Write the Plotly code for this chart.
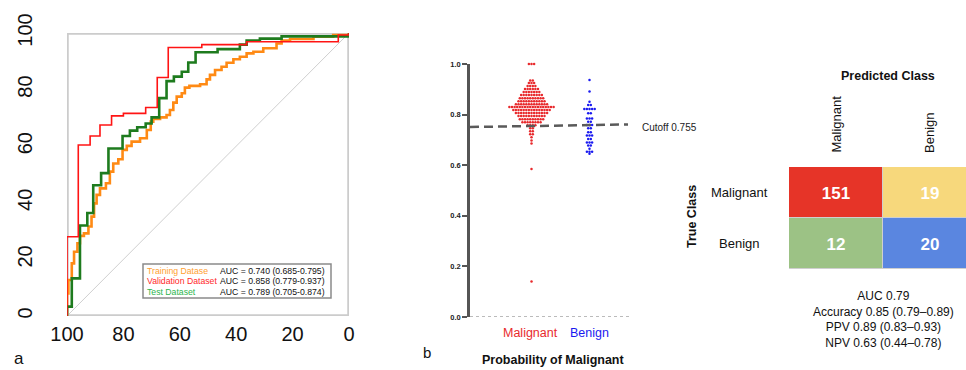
import plotly.graph_objects as go

W, H = 966, 370
def fx(p): return p / W
def fy(p): return 1 - p / H

FONT = "Arial, Liberation Sans, Helvetica, sans-serif"

# ---------------- Panel a: ROC curves (specificity %, sensitivity %) ----------------
train_spec = [100, 99.5, 98.3, 97.5, 96.3, 95.4, 94.0, 92.4, 91.3, 90.4, 89.5, 88.3, 86.2, 84.8,
              83.6, 81.8, 80.3, 78.8, 77.1, 74.1, 71.7, 70.3, 69.4, 67.0, 64.7, 63.5, 62.3, 61.1,
              59.3, 58.2, 56.6, 52.8, 50.5, 49.3, 47.5, 45.2, 43.4, 41.0, 38.7, 36.3, 33.9, 30.4,
              25.7, 23.9, 20.9, 12.6, 5.6, 0, 0]
train_sens = [0, 8.0, 12.7, 18.6, 22.7, 25.7, 28.3, 29.2, 31.6, 35.1, 39.8, 42.8, 45.1, 46.9,
              51.0, 53.9, 55.4, 58.7, 60.1, 61.6, 62.8, 65.7, 68.7, 69.6, 70.2, 71.0, 72.8, 75.4,
              77.5, 78.7, 80.7, 81.3, 81.9, 83.6, 85.2, 86.9, 88.1, 89.5, 90.7, 91.6, 92.8, 93.4,
              94.6, 96.3, 97.3, 97.9, 98.7, 99.3, 100]
val_spec = [100, 96.0, 91.8, 88.3, 84.2, 80.0, 72.1, 68.0, 64.1, 52.2, 36.3, 3.8, 0, 0]
val_sens = [0, 28.0, 60.4, 63.6, 67.5, 70.7, 71.6, 73.7, 84.3, 94.9, 95.9, 96.9, 99.3, 100]
test_spec = [100, 98.3, 95.4, 92.8, 90.7, 87.9, 85.3, 80.3, 77.7, 75.1, 72.1, 70.0, 67.3, 64.7,
             62.1, 59.3, 57.0, 54.4, 46.6, 38.7, 36.3, 31.6, 23.9, 0, 0]
test_sens = [0, 3.3, 13.3, 32.0, 36.4, 46.2, 50.5, 59.2, 63.6, 65.5, 66.7, 68.0, 70.2, 77.0,
             83.0, 84.6, 86.3, 89.6, 93.2, 94.3, 95.9, 97.3, 98.0, 98.8, 100]
roc_ticks = [100, 80, 60, 40, 20, 0]
roc_names = ["Training Datase", "Validation Dataset", "Test Dataset"]
roc_auc = ["AUC = 0.740 (0.685-0.795)", "AUC = 0.858 (0.779-0.937)", "AUC = 0.789 (0.705-0.874)"]

# ---------------- Panel b: dot plot of predicted probability ----------------
mal_vals = [1.000, 0.935, 0.925, 0.913, 0.901, 0.889, 0.877, 0.865, 0.853, 0.841, 0.830, 0.818,
            0.806, 0.794, 0.782, 0.770, 0.758, 0.746, 0.734, 0.722, 0.710, 0.698, 0.686, 0.585, 0.140]
mal_counts = [3, 2, 3, 4, 6, 7, 9, 10, 11, 13, 18, 15,
              13, 11, 10, 8, 4, 2, 2, 2, 1, 1, 1, 1, 1]
ben_vals = [0.937, 0.891, 0.851, 0.838, 0.822, 0.805, 0.785, 0.772, 0.759, 0.746, 0.730, 0.717,
            0.704, 0.690, 0.678, 0.665, 0.653, 0.645]
ben_counts = [1, 1, 1, 2, 5, 2, 3, 2, 3, 2, 2, 3, 2, 3, 2, 1, 3, 1]
cutoff = 0.755
cutoff_line_y = [0.751, 0.761]
prob_ticks = [0.0, 0.2, 0.4, 0.6, 0.8, 1.0]
groups = ["Malignant", "Benign"]

# ---------------- Panel c: confusion matrix ----------------
cm_classes = ["Malignant", "Benign"]
cm_counts = [[151, 19], [12, 20]]
cm_colors = [["#E63428", "#F7D87C"], ["#9CC285", "#5A86E0"]]
cm_stats = ["AUC 0.79", "Accuracy 0.85 (0.79–0.89)", "PPV 0.89 (0.83–0.93)", "NPV 0.63 (0.44–0.78)"]

RED_L, GRN_L, ORG_L = "#FF1414", "#1E7B1E", "#FF8A14"
RED_T, GRN_T, ORG_T = "#FF2A2A", "#2DB54E", "#FFA030"

fig = go.Figure()

# ROC traces
fig.add_trace(go.Scatter(x=[100, 0], y=[0, 100], mode="lines",
                         line=dict(color="#CFCFCF", width=1), xaxis="x", yaxis="y", hoverinfo="skip"))
fig.add_trace(go.Scatter(x=train_spec, y=train_sens, mode="lines", line_shape="vh",
                         line=dict(color=ORG_L, width=2.6), name=roc_names[0], xaxis="x", yaxis="y"))
fig.add_trace(go.Scatter(x=test_spec, y=test_sens, mode="lines", line_shape="vh",
                         line=dict(color=GRN_L, width=2.6), name=roc_names[2], xaxis="x", yaxis="y"))
fig.add_trace(go.Scatter(x=val_spec, y=val_sens, mode="lines", line_shape="vh",
                         line=dict(color=RED_L, width=1.6), name=roc_names[1], xaxis="x", yaxis="y"))

# Dot plot (rows laid out side by side around the group centre)
def swarm(vals, counts, center, spacing=2.6):
    xs, ys = [], []
    for v, c in zip(vals, counts):
        for k in range(c):
            xs.append(center + (k - (c - 1) / 2) * spacing)
            ys.append(v)
    return xs, ys

MAL_C, BEN_C = 61.5, 119.5
mx, my = swarm(mal_vals, mal_counts, MAL_C)
bx, by = swarm(ben_vals, ben_counts, BEN_C)
fig.add_trace(go.Scatter(x=mx, y=my, mode="markers", marker=dict(color="#E8292C", size=2.5),
                         xaxis="x2", yaxis="y2", cliponaxis=False))
fig.add_trace(go.Scatter(x=bx, y=by, mode="markers", marker=dict(color="#1A1AF0", size=2.5),
                         xaxis="x2", yaxis="y2", cliponaxis=False))
fig.add_trace(go.Scatter(x=[0, 158], y=cutoff_line_y, mode="lines",
                         line=dict(color="#5A5A5A", width=2.5, dash="9px,5px"),
                         xaxis="x2", yaxis="y2", cliponaxis=False))

# Confusion matrix heatmap
flat_colors = [c for row in cm_colors for c in row]
n = len(flat_colors)
cscale = []
for i, c in enumerate(flat_colors):
    cscale.append([i / n, c])
    cscale.append([(i + 1) / n, c])
zidx = [[r * 2 + c for c in range(2)] for r in range(2)]
fig.add_trace(go.Heatmap(z=zidx, x=[0, 1], y=[0, 1], text=cm_counts, texttemplate="%{text}",
                         textfont=dict(color="white", size=17, family=FONT, weight="bold"),
                         colorscale=cscale, zmin=-0.5, zmax=n - 0.5, showscale=False,
                         xgap=1, ygap=1, xaxis="x3", yaxis="y3", hoverinfo="skip"))

shapes = [
    dict(type="rect", xref="x", yref="y", x0=100, x1=0, y0=0, y1=100,
         line=dict(color="#CCCCCC", width=3.5), layer="below"),
    dict(type="rect", xref="paper", yref="paper", x0=fx(143), x1=fx(331), y0=fy(298), y1=fy(264),
         line=dict(color="#8A8A8A", width=1.5), fillcolor="white", layer="above"),
    dict(type="line", xref="x2", yref="y2", x0=0, x1=160, y0=0, y1=0,
         line=dict(color="#777777", width=1, dash="dot")),
    dict(type="rect", xref="x3", yref="y3", x0=-0.5, x1=1.5, y0=-0.5, y1=1.5,
         line=dict(color="#CFCFCF", width=1), fillcolor="#CFCFCF", layer="below"),
]

ann = []
# ROC legend text
leg_cols = [ORG_T, RED_T, GRN_T]
for i, (nm, auc) in enumerate(zip(roc_names, roc_auc)):
    yy = fy(270.5 + i * 10.8)
    ann.append(dict(x=fx(145), y=yy, xref="paper", yref="paper", text=nm, showarrow=False,
                    xanchor="left", yanchor="middle", font=dict(color=leg_cols[i], size=8.7, family=FONT)))
    ann.append(dict(x=fx(327), y=yy, xref="paper", yref="paper", text=auc, showarrow=False,
                    xanchor="right", yanchor="middle", font=dict(color="#111111", size=8.7, family=FONT)))
ann.append(dict(x=fx(12), y=fy(358), xref="paper", yref="paper", text="a", showarrow=False,
                xanchor="left", yanchor="middle", font=dict(size=17, family=FONT, color="#111")))
# Panel b texts
ann.append(dict(x=fx(640), y=fy(127), xref="paper", yref="paper", text=f"Cutoff {cutoff}",
                showarrow=False, xanchor="left", yanchor="middle", font=dict(size=10, family=FONT, color="#222")))
ann.append(dict(x=MAL_C - 1, y=fy(333), xref="x2", yref="paper", text=groups[0], showarrow=False,
                xanchor="center", yanchor="middle", font=dict(size=12.5, family=FONT, color="#E8292C")))
ann.append(dict(x=BEN_C - 0.5, y=fy(333), xref="x2", yref="paper", text=groups[1], showarrow=False,
                xanchor="center", yanchor="middle", font=dict(size=12.5, family=FONT, color="#1A1AF0")))
ann.append(dict(x=fx(553), y=fy(360), xref="paper", yref="paper", text="<b>Probability of Malignant</b>",
                showarrow=False, xanchor="center", yanchor="middle", font=dict(size=12.5, family=FONT, color="#111")))
ann.append(dict(x=fx(421), y=fy(352), xref="paper", yref="paper", text="b", showarrow=False,
                xanchor="left", yanchor="middle", font=dict(size=15, family=FONT, color="#111")))
# Panel c texts
ann.append(dict(x=fx(888), y=fy(76), xref="paper", yref="paper", text="<b>Predicted Class</b>",
                showarrow=False, xanchor="center", yanchor="middle", font=dict(size=12.5, family=FONT, color="#111")))
for j, cls in enumerate(cm_classes):
    ann.append(dict(x=j, y=fy(155), xref="x3", yref="paper", text=cls, textangle=-90, showarrow=False,
                    xanchor="center", yanchor="bottom", font=dict(size=13, family=FONT, color="#111")))
    ann.append(dict(x=fx(739), y=j, xref="paper", yref="y3", text=cls, showarrow=False,
                    xanchor="center", yanchor="middle", font=dict(size=13, family=FONT, color="#111")))
ann.append(dict(x=fx(692), y=fy(217), xref="paper", yref="paper", text="<b>True Class</b>", textangle=-90,
                showarrow=False, xanchor="center", yanchor="middle", font=dict(size=12.5, family=FONT, color="#111")))
ann.append(dict(x=fx(883), y=fy(319), xref="paper", yref="paper", text="<br>".join(cm_stats),
                showarrow=False, xanchor="center", yanchor="middle", align="center",
                font=dict(size=12, family=FONT, color="#111")))

fig.update_layout(
    width=W, height=H, margin=dict(l=0, r=0, t=0, b=0, autoexpand=False),
    paper_bgcolor="white", plot_bgcolor="white", showlegend=False,
    font=dict(family=FONT, color="#111"),
    xaxis=dict(domain=[fx(67), fx(349)], range=[100, 0], tickvals=roc_ticks, automargin=False,
               showgrid=False, zeroline=False, showline=False, ticks="",
               tickfont=dict(size=20, family=FONT, color="#111"), ticklabelstandoff=4),
    yaxis=dict(domain=[fy(316), fy(33)], range=[0, 100], tickvals=roc_ticks, tickangle=-90, automargin=False,
               showgrid=False, zeroline=False, showline=False, ticks="",
               tickfont=dict(size=20, family=FONT, color="#111"), ticklabelstandoff=30),
    xaxis2=dict(domain=[fx(470), fx(636)], range=[0, 166], visible=False, automargin=False),
    yaxis2=dict(domain=[fy(317), fy(64)], range=[0, 1], tickvals=prob_ticks, tickformat=".1f",
                automargin=False,
                showgrid=False, zeroline=False, showline=True, linewidth=2.5, linecolor="#555",
                ticks="outside", ticklen=5, tickwidth=2, tickcolor="#555",
                tickfont=dict(size=7.5, family=FONT, color="#222", weight="bold"), anchor="x2"),
    xaxis3=dict(domain=[fx(789), 1.0], range=[-0.5, -0.5 + (966 - 789) / 94], visible=False, automargin=False),
    yaxis3=dict(domain=[fy(269), fy(167)], range=[1.5, -0.5], visible=False, anchor="x3", automargin=False),
    shapes=shapes, annotations=ann,
)

fig.write_html("out.html", config={"displayModeBar": False},
               post_script="document.body.style.margin='0';document.body.style.overflow='hidden';")
